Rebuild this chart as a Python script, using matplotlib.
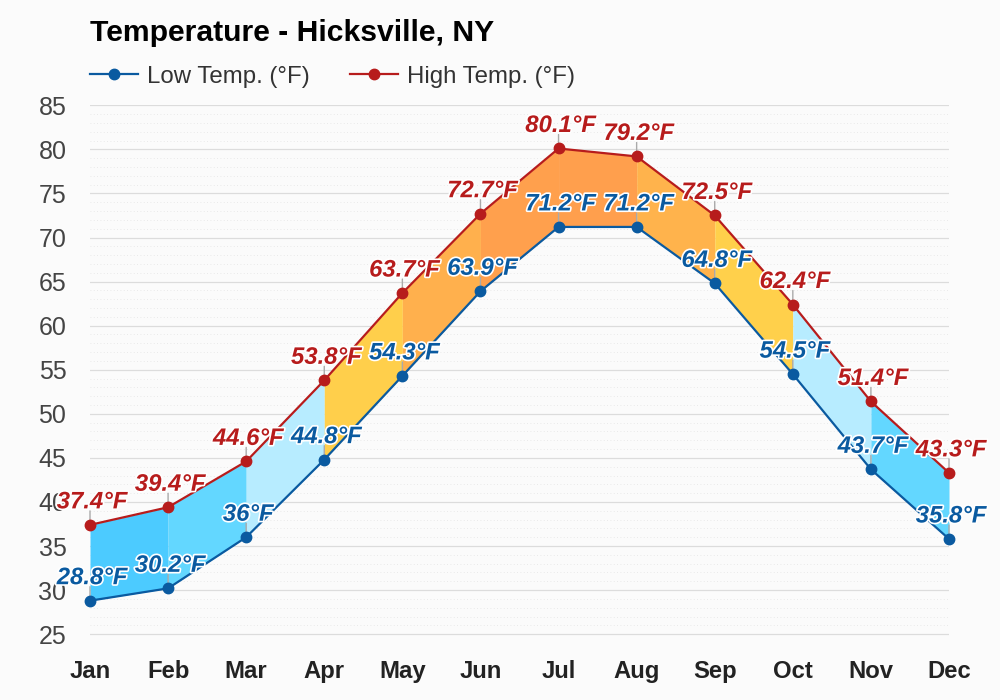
#!/usr/bin/env python3
"""Monthly low and high temperature band for Hicksville, NY."""

import matplotlib
matplotlib.use('Agg')
import matplotlib.patheffects as pe
import matplotlib.pyplot as plt
import numpy as np

months = ['Jan', 'Feb', 'Mar', 'Apr', 'May', 'Jun', 'Jul', 'Aug', 'Sep', 'Oct', 'Nov', 'Dec']
low_temp = [28.8, 30.2, 36, 44.8, 54.3, 63.9, 71.2, 71.2, 64.8, 54.5, 43.7, 35.8]
high_temp = [37.4, 39.4, 44.6, 53.8, 63.7, 72.7, 80.1, 79.2, 72.5, 62.4, 51.4, 43.3]
y_ticks = [25, 30, 35, 40, 45, 50, 55, 60, 65, 70, 75, 80, 85]
y_minor = list(range(24, 86))

# one colour per month-to-month segment
band_colors = ['#4ccbff', '#63d7ff', '#b7ecff', '#ffcf4b', '#ffb04d', '#ffa04d',
               '#ff9f4d', '#ffb34c', '#ffd04b', '#b7ecff', '#63d7ff']
LOW_COLOR = '#0a5aa0'
HIGH_COLOR = '#b71c1c'
BG = '#fbfbfb'

plt.rcParams['font.family'] = ['Liberation Sans', 'DejaVu Sans']

fig = plt.figure(figsize=(10, 7), dpi=100, facecolor=BG)
ax = fig.add_axes([0.090, 1 - 643 / 700, 0.859, (643 - 105.3) / 700], facecolor=BG)

x = np.arange(len(months))

ax.set_xlim(0, 11)
ax.set_ylim(24, 85)
ax.set_yticks(y_ticks)
ax.set_yticks(y_minor, minor=True)
ax.set_xticks(x, months)
ax.grid(True, axis='y', which='major', color='#dcdcdc', lw=0.9)
ax.grid(True, axis='y', which='minor', color='#e4e4e4', lw=0.6, ls=(0, (1, 3)))
ax.set_axisbelow(True)
ax.tick_params(axis='both', which='both', length=0)
ax.tick_params(axis='y', labelsize=18, labelcolor='#444444', pad=17)
ax.tick_params(axis='x', pad=12)
for lab in ax.get_xticklabels():
    lab.set_fontsize(17.2)
    lab.set_fontweight('bold')
    lab.set_color('#222222')
for s in ax.spines.values():
    s.set_visible(False)

# coloured band between the two lines
for i, col in enumerate(band_colors):
    ax.fill_between(x[i:i + 2], low_temp[i:i + 2], high_temp[i:i + 2],
                    color=col, lw=0, zorder=2)

low_line, = ax.plot(x, low_temp, color=LOW_COLOR, lw=1.6, marker='o', ms=7.5,
                    clip_on=False, zorder=4, label='Low Temp. (°F)')
high_line, = ax.plot(x, high_temp, color=HIGH_COLOR, lw=1.6, marker='o', ms=7.5,
                     clip_on=False, zorder=4, label='High Temp. (°F)')

# stems and value labels
for vals, col in [(low_temp, LOW_COLOR), (high_temp, HIGH_COLOR)]:
    for xi, v in zip(x, vals):
        ax.annotate('', xy=(xi, v), xytext=(0, 14), textcoords='offset pixels',
                    arrowprops=dict(arrowstyle='-', color='#aaaaaa', lw=1,
                                    shrinkA=0, shrinkB=0), zorder=3)
        ax.annotate(f'{v:g}°F', xy=(xi, v), xytext=(2, 23), textcoords='offset pixels',
                    ha='center', va='center', fontsize=17.2, fontweight='bold',
                    fontstyle='italic', color=col, zorder=5, annotation_clip=False,
                    path_effects=[pe.withStroke(linewidth=2.4, foreground='white')])

fig.text(0.090, 1 - 33 / 700, 'Temperature - Hicksville, NY', fontsize=21.7, fontweight='bold',
         color='black', ha='left', va='center')

fig.legend(handles=[low_line, high_line], loc='center left', bbox_to_anchor=(0.090, 1 - 76.5 / 700),
           ncol=2, frameon=False, fontsize=17.3, labelcolor='#333333', handlelength=2.0,
           handletextpad=0.37, columnspacing=1.67, borderpad=0, borderaxespad=0)

fig.savefig('out.png', dpi=100, facecolor=BG)
